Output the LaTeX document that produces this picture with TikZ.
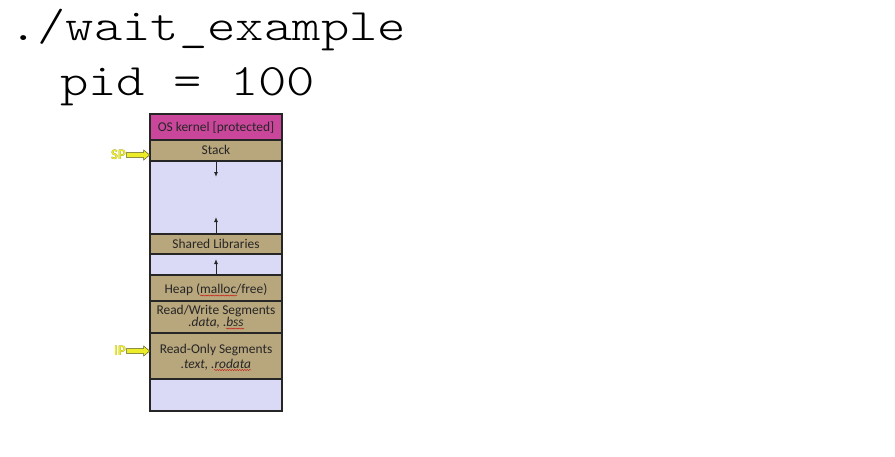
\documentclass[tikz,border=0pt]{standalone}
\usepackage{fontspec}
\setmainfont{Carlito}
\newfontfamily\codefont[FakeStretch=1.2]{Latin Modern Mono Light}
\usepackage[outline]{contour}
\contourlength{0.6pt}
\usetikzlibrary{shapes.arrows,decorations.pathmorphing,arrows.meta}
\definecolor{kernelc}{RGB}{201,70,155}
\definecolor{segc}{RGB}{184,166,124}
\definecolor{freec}{RGB}{218,218,246}
\definecolor{ptrc}{RGB}{236,236,40}
\definecolor{ptredge}{RGB}{90,90,40}
\tikzset{
  seg/.style={draw=black!85, line width=1.1pt, fill=segc},
  freeseg/.style={draw=black!85, line width=1.1pt, fill=freec},
  kern/.style={draw=black!85, line width=1.1pt, fill=kernelc},
  lbl/.style={font=\fontsize{13.4}{14}\selectfont, text=black!85, anchor=base, inner sep=0pt},
  code/.style={font=\codefont\fontsize{45}{45}\selectfont, anchor=base west, inner sep=0pt},
  growarrow/.style={-{Latex[length=5pt,width=4pt]}, line width=1pt, black!85},
  ptrarrow/.style={single arrow, draw=ptredge, fill=ptrc, line width=0.5pt,
    minimum height=23pt, inner xsep=0pt, inner ysep=2.3pt, text height=0pt, text depth=0pt,
    single arrow head extend=2.5pt, single arrow tip angle=80},
  ptrlbl/.style={font=\bfseries\fontsize{14.5}{14.5}\selectfont, inner sep=0pt},
  squig/.style={red!80!black, line width=0.4pt, decorate,
    decoration={snake, amplitude=0.5pt, segment length=2.5pt}}
}
\begin{document}
\begin{tikzpicture}[x=1pt,y=-1pt]
\useasboundingbox (0,0) rectangle (895,456);

% command line and process id
\node[code] (cmd) at (9,40) {./wait\_example};
\node[code] (pid) at (60,95) {pid = 100};

% address space segments, top to bottom
\path[kern]    (150,114) rectangle (282,140);
\path[seg]     (150,140) rectangle (282,161);
\path[freeseg] (150,161) rectangle (282,234);
\path[seg]     (150,234) rectangle (282,254);
\path[freeseg] (150,254) rectangle (282,275);
\path[seg]     (150,275) rectangle (282,301);
\path[seg]     (150,301) rectangle (282,333);
\path[seg]     (150,333) rectangle (282,379);
\path[freeseg] (150,379) rectangle (282,411);

\node[lbl] (kernel) at (216,131) {OS kernel [protected]};
\node[lbl] (stack) at (216,154) {Stack};
\node[lbl] (shlib) at (216,248) {Shared Libraries};
\node[lbl] (heap) at (216,293) {Heap (malloc/free)};
\node[lbl] (rw) at (216,314) {Read/Write Segments};
\node[lbl] (rwsub) at (216,326) {\itshape .data, .bss};
\node[lbl] (ro) at (216,353) {Read-Only Segments};
\node[lbl] (rosub) at (216,368) {\itshape .text, .rodata};

% growth directions
\coordinate (stkbot) at (216,161);
\coordinate (stkgrow) at (216,177);
\coordinate (libtop) at (216,234);
\coordinate (libgrow) at (216,217);
\coordinate (heaptop) at (216,275);
\coordinate (heapgrow) at (216,259);
\draw[growarrow] (stkbot) -- (stkgrow);
\draw[growarrow] (libtop) -- (libgrow);
\draw[growarrow] (heaptop) -- (heapgrow);

% spell-check style underlines
\draw[squig] (200,295.5) -- (237,295.5);
\draw[squig] (226,328.5) -- (244,328.5);
\draw[squig] (214,370) -- (251,370);

% register pointers
\node[ptrlbl, anchor=east] (sp) at (126,155) {\contour{ptredge}{\textcolor{ptrc}{SP}}};
\node[ptrarrow, anchor=tip] (sparrow) at (150,155) {};
\node[ptrlbl, anchor=east] (ip) at (126,351) {\contour{ptredge}{\textcolor{ptrc}{IP}}};
\node[ptrarrow, anchor=tip] (iparrow) at (150,351) {};
\end{tikzpicture}
\end{document}
